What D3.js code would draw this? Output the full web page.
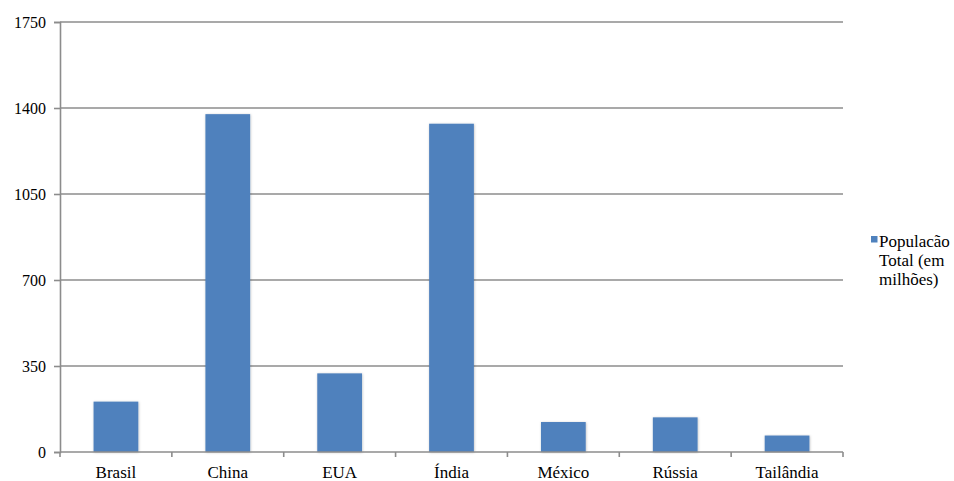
<!DOCTYPE html>
<html lang="en">
<head>
  <meta charset="UTF-8">
  <title>População Total</title>
  <script src="https://d3js.org/d3.v7.min.js"></script>
  <style>
    body { margin: 0; background: #fff; }
  </style>
</head>
<body>
  <svg id="chart" width="954" height="481"></svg>
  <script>
    // data
    const countries = ["Brasil", "China", "EUA", "Índia", "México", "Rússia", "Tailândia"];
    const population = [205, 1375, 320, 1336, 122, 141, 67];
    const yTicks = [0, 350, 700, 1050, 1400, 1750];
    const seriesName = ["Populacão", "Total (em", "milhões)"];

    const svg = d3.select("#chart")
      .attr("font-family", "'Liberation Serif'")
      .attr("font-size", 16.5);
    const margin = { left: 60, right: 111, top: 22, bottom: 29 };
    const width = 954 - margin.left - margin.right;
    const height = 481 - margin.top - margin.bottom;

    const g = svg.append("g")
      .attr("transform", "translate(" + margin.left + "," + margin.top + ")");

    const x = d3.scaleBand()
      .domain(countries)
      .range([0, width])
      .paddingInner(0.6)
      .paddingOuter(0.3);

    const y = d3.scaleLinear()
      .domain([0, 1750])
      .range([height, 0]);

    // shadow filter for the bars
    const defs = svg.append("defs");
    const f = defs.append("filter").attr("id", "shadow")
      .attr("x", "-20%").attr("y", "-5%").attr("width", "140%").attr("height", "110%");
    f.append("feDropShadow").attr("dx", 0.5).attr("dy", 0.5)
      .attr("stdDeviation", 1).attr("flood-color", "#000").attr("flood-opacity", 0.25);

    // gridlines
    g.selectAll(".grid")
      .data(yTicks.filter(d => d > 0))
      .enter().append("line")
      .attr("x1", 0).attr("x2", width)
      .attr("y1", d => y(d)).attr("y2", d => y(d))
      .attr("stroke", "#8c8c8c").attr("stroke-width", 1.6);

    // y axis
    const yAxis = g.append("g")
      .call(d3.axisLeft(y).tickValues(yTicks).tickFormat(d3.format("d")).tickSize(6).tickPadding(8))
      .attr("font-family", "'Liberation Serif'")
      .attr("font-size", 16);
    yAxis.select(".domain").attr("stroke", "#8c8c8c").attr("stroke-width", 1.6);
    yAxis.selectAll(".tick line").attr("stroke", "#8c8c8c").attr("stroke-width", 1.6);
    yAxis.selectAll(".tick text").attr("fill", "#000");

    // bars
    g.selectAll(".bar")
      .data(population)
      .enter().append("rect")
      .attr("class", "bar")
      .attr("x", (d, i) => x(countries[i]))
      .attr("y", d => y(d))
      .attr("width", x.bandwidth())
      .attr("height", d => height - y(d))
      .attr("fill", "#4f81bd")
      .attr("filter", "url(#shadow)");

    // x axis with ticks at category boundaries
    const xg = g.append("g").attr("transform", "translate(0," + height + ")");
    xg.append("line")
      .attr("x1", 0).attr("x2", width)
      .attr("stroke", "#8c8c8c").attr("stroke-width", 1.6);
    const bounds = d3.range(countries.length + 1).map(i => i * x.step());
    xg.selectAll(".xtick")
      .data(bounds)
      .enter().append("line")
      .attr("x1", d => d).attr("x2", d => d)
      .attr("y1", 0).attr("y2", 5)
      .attr("stroke", "#8c8c8c").attr("stroke-width", 1.6);
    xg.selectAll(".xlabel")
      .data(countries)
      .enter().append("text")
      .attr("x", d => x(d) + x.bandwidth() / 2)
      .attr("y", 26)
      .attr("text-anchor", "middle")
      .attr("font-size", 17)
      .text(d => d);

    // legend
    const lg = svg.append("g").attr("transform", "translate(871,236)");
    lg.append("rect")
      .attr("x", 0).attr("y", 0)
      .attr("width", 6.5).attr("height", 6.5)
      .attr("fill", "#4f81bd");
    lg.selectAll("text")
      .data(seriesName)
      .enter().append("text")
      .attr("x", 8)
      .attr("y", (d, i) => 11 + i * 19)
      .attr("font-size", 17)
      .text(d => d);
  </script>
</body>
</html>
